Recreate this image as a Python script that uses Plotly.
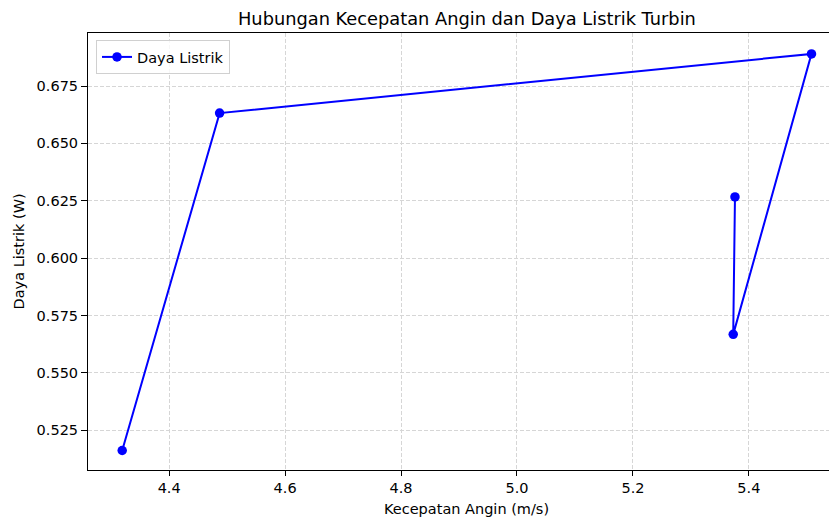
import plotly.graph_objects as go

kecepatan_angin = [4.319, 4.487, 5.508, 5.373, 5.376]
daya_listrik = [0.5162, 0.6632, 0.6890, 0.5668, 0.6267]
x_ticks = [4.4, 4.6, 4.8, 5.0, 5.2, 5.4]
y_ticks = [0.525, 0.550, 0.575, 0.600, 0.625, 0.650, 0.675]

FONT = "DejaVu Sans"
GRID = "#d6d6d6"

fig = go.Figure()
fig.add_trace(go.Scatter(
    x=kecepatan_angin, y=daya_listrik, mode="lines+markers",
    name="Daya Listrik",
    line=dict(color="blue", width=2),
    marker=dict(color="blue", size=9.5),
))

# page body has an 8px margin, so the figure is sized to the visible area
fig.update_layout(
    width=829, height=513,
    margin=dict(l=80, r=0, t=25, b=51),
    paper_bgcolor="white", plot_bgcolor="white",
    font=dict(family=FONT, size=14.5, color="black"),
    showlegend=True,
    legend=dict(x=0.0107, y=0.984, xanchor="left", yanchor="top",
                bgcolor="rgba(255,255,255,0.8)", bordercolor="#d0d0d0",
                borderwidth=1, font=dict(family=FONT, size=14.5)),
    annotations=[
        dict(text="Hubungan Kecepatan Angin dan Daya Listrik Turbin",
             xref="paper", yref="paper", x=0.506, y=1, yshift=15,
             xanchor="center", yanchor="middle", showarrow=False,
             font=dict(family=FONT, size=17.8, color="black")),
        dict(text="Kecepatan Angin (m/s)",
             xref="paper", yref="paper", x=0.506, y=0, yshift=-39,
             xanchor="center", yanchor="middle", showarrow=False,
             font=dict(family=FONT, size=14.5, color="black")),
        dict(text="Daya Listrik (W)", textangle=-90,
             xref="paper", yref="paper", x=0, xshift=-70, y=0.5,
             xanchor="center", yanchor="middle", showarrow=False,
             font=dict(family=FONT, size=14.5, color="black")),
    ],
)

fig.update_xaxes(
    range=[4.26, 5.552], tickvals=x_ticks, ticktext=[f"{v:.1f}" for v in x_ticks],
    showline=True, linecolor="black", linewidth=1, mirror=True,
    ticks="outside", ticklen=5, tickcolor="black", tickwidth=1,
    showgrid=True, gridcolor=GRID, griddash="4px,2px", gridwidth=1,
    zeroline=False, tickfont=dict(family=FONT, size=14.5),
)
fig.update_yaxes(
    range=[0.5077, 0.6981], tickvals=y_ticks, ticktext=[f"{v:.3f}" for v in y_ticks],
    showline=True, linecolor="black", linewidth=1, mirror=False,
    ticks="outside", ticklen=6, tickcolor="black", tickwidth=1,
    showgrid=True, gridcolor=GRID, griddash="4px,2px", gridwidth=1,
    zeroline=False, tickfont=dict(family=FONT, size=14.5),
)

fig.write_html("out.html")
